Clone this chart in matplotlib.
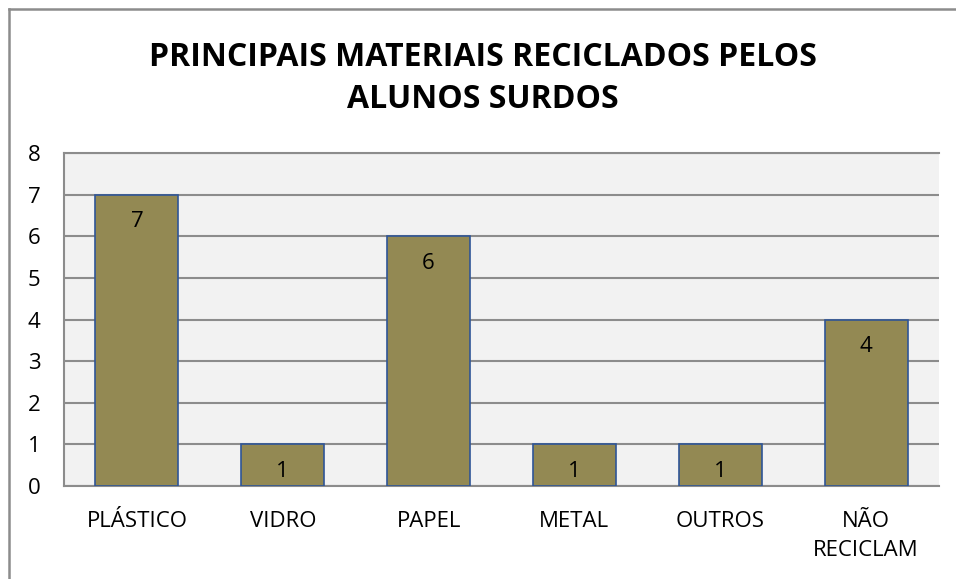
import matplotlib.pyplot as plt
from matplotlib.lines import Line2D

categorias = ["PLÁSTICO", "VIDRO", "PAPEL", "METAL", "OUTROS", "NÃO\nRECICLAM"]
valores = [7, 1, 6, 1, 1, 4]
titulo = "PRINCIPAIS MATERIAIS RECICLADOS PELOS\nALUNOS SURDOS"

plt.rcParams['font.family'] = ['Open Sans', 'DejaVu Sans']

fig = plt.figure(figsize=(9.56, 5.79), dpi=100)
ax = fig.add_axes([64 / 956, 93 / 579, 875 / 956, 333 / 579])
ax.set_facecolor("#F2F2F2")

x = range(len(categorias))
bars = ax.bar(x, valores, width=0.57, color="#938953", edgecolor="#2F5597", linewidth=1.2, zorder=3)
for b, v in zip(bars, valores):
    ax.text(b.get_x() + b.get_width() / 2, v - 0.65, str(v), ha="center", va="center",
            fontsize=16, zorder=4)

ax.set_xlim(-0.5, len(categorias) - 0.5)
ax.set_ylim(0, 8)
ax.set_yticks(range(0, 9))
ax.yaxis.grid(True, color="#8C8C8C", linewidth=1.5, zorder=0)
ax.set_xticks(list(x))
ax.set_xticklabels(categorias, fontsize=16, va="top", linespacing=1.5)
ax.tick_params(axis="both", length=0, labelsize=16)
ax.tick_params(axis="x", pad=18)
ax.tick_params(axis="y", pad=17)
for s in ["left", "bottom", "top"]:
    ax.spines[s].set_color("#8C8C8C")
    ax.spines[s].set_linewidth(1.5)
ax.spines["right"].set_visible(False)

fig.text(483 / 956, 1 - 78.5 / 579, titulo, ha="center", va="center", fontsize=23,
         fontweight="bold", linespacing=1.4)

# outer chart border
fig.add_artist(Line2D([8.5 / 956, 8.5 / 956], [0, 1 - 8.5 / 579], color="#8C8C8C", linewidth=1.8))
fig.add_artist(Line2D([8.5 / 956, 1], [1 - 8.5 / 579, 1 - 8.5 / 579], color="#8C8C8C", linewidth=1.8))

fig.savefig("out.png", dpi=100)
